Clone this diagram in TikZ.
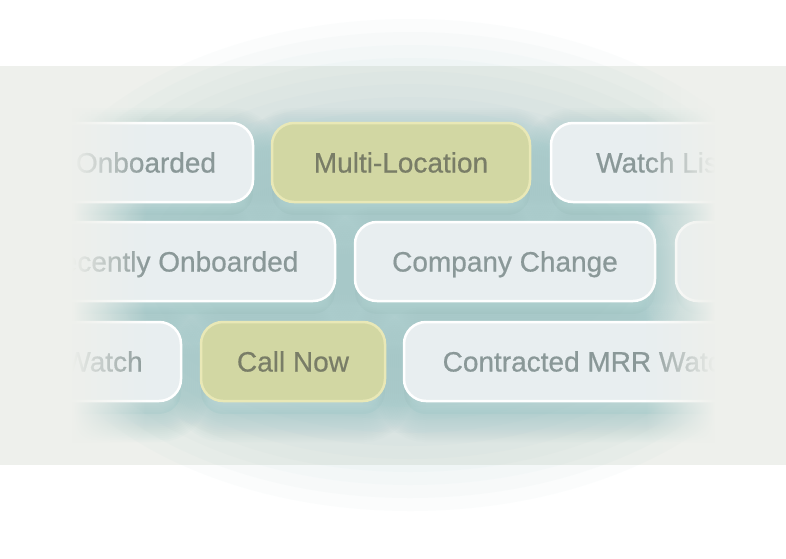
\documentclass[tikz,border=0pt]{standalone}
\usepackage{fontspec}
\setmainfont{Liberation Sans}
\newfontfamily\chipfont{Liberation Sans}[FakeBold=0.6]
\usepackage{tikz}
\usetikzlibrary{positioning, fadings, backgrounds}
\definecolor{bandgray}{HTML}{EEF0EC}
\definecolor{glowteal}{HTML}{A4CCCD}
\definecolor{shadowteal}{HTML}{93C1C2}
\definecolor{chipgray}{HTML}{E8EEF0}
\definecolor{chipgreen}{HTML}{D2D7A3}
\definecolor{rimgreen}{HTML}{E9E8B6}
\definecolor{inkgray}{HTML}{8A9898}
\definecolor{inkgreen}{HTML}{797D67}
\tikzfading[name=fadeleft, left color=transparent!0, right color=transparent!100]
\tikzfading[name=faderight, left color=transparent!100, right color=transparent!0]
\tikzstyle{pill} = [rectangle, rounded corners=22pt, minimum height=79pt, inner sep=0pt, outer sep=0pt, text height=20pt, text depth=0pt, line width=2.5pt, font=\chipfont\fontsize{28}{30}\selectfont]
\tikzstyle{chip} = [pill, draw=white, fill=chipgray, text=inkgray]
\tikzstyle{chipon} = [pill, draw=rimgreen, fill=chipgreen, text=inkgreen]
\tikzstyle{halo} = [draw=shadowteal, opacity=.04, rounded corners=22pt, transform canvas={yshift=-13pt}]

\begin{document}
\begin{tikzpicture}[x=1pt, y=-1pt, node distance=20pt]
\useasboundingbox (0,0) rectangle (786,558);
\begin{pgfonlayer}{background}
\fill[white] (0,0) rectangle (786,558);
\fill[bandgray] (0,66) rectangle (786,465);
% soft glow behind the chips
\foreach \k in {1,...,12}
  \fill[glowteal, opacity=.045] (410,265) ellipse [x radius=200pt+16pt*\k, y radius=90pt+13pt*\k];
\end{pgfonlayer}

% row 1
\node (ml) [chipon, minimum width=258pt] at (401,162.5) {Multi-Location};
\node (onb) [chip, minimum width=214pt, left=19pt of ml] {Onboarded};
\node (wl) [chip, minimum width=220pt, right=21pt of ml] {Watch List};
% row 2
\node (cc) [chip, minimum width=300pt] at (505,261.5) {Company Change};
\node (ro) [chip, minimum width=330pt, left=of cc] {Recently Onboarded};
\node (nx) [chip, minimum width=220pt, right=21pt of cc] {};
% row 3
\node (cn) [chipon, minimum width=184pt] at (293,361.5) {Call Now};
\node (wt) [chip, minimum width=155pt, left=of cn] {Watch};
\node (cm) [chip, minimum width=372pt, right=19pt of cn] {Contracted MRR Watch};

% shadows under the chips
\begin{pgfonlayer}{background}
\foreach \n in {onb,ml,wl,ro,cc,nx,wt,cn,cm} {
  \fill[shadowteal, opacity=.2, rounded corners=22pt, transform canvas={yshift=-13pt}] (\n.south west) rectangle (\n.north east);
  \foreach \w in {4,8,...,56}
    \draw[halo, line width=\w pt] (\n.south west) rectangle (\n.north east);
}
\end{pgfonlayer}

% edges of the band
\fill[bandgray] (0,66) rectangle (72,465);
\fill[bandgray, path fading=fadeleft] (72,66) rectangle (146,465);
\fill[bandgray, path fading=faderight] (645,66) rectangle (715,465);
\fill[bandgray] (715,66) rectangle (786,465);
\end{tikzpicture}
\end{document}
